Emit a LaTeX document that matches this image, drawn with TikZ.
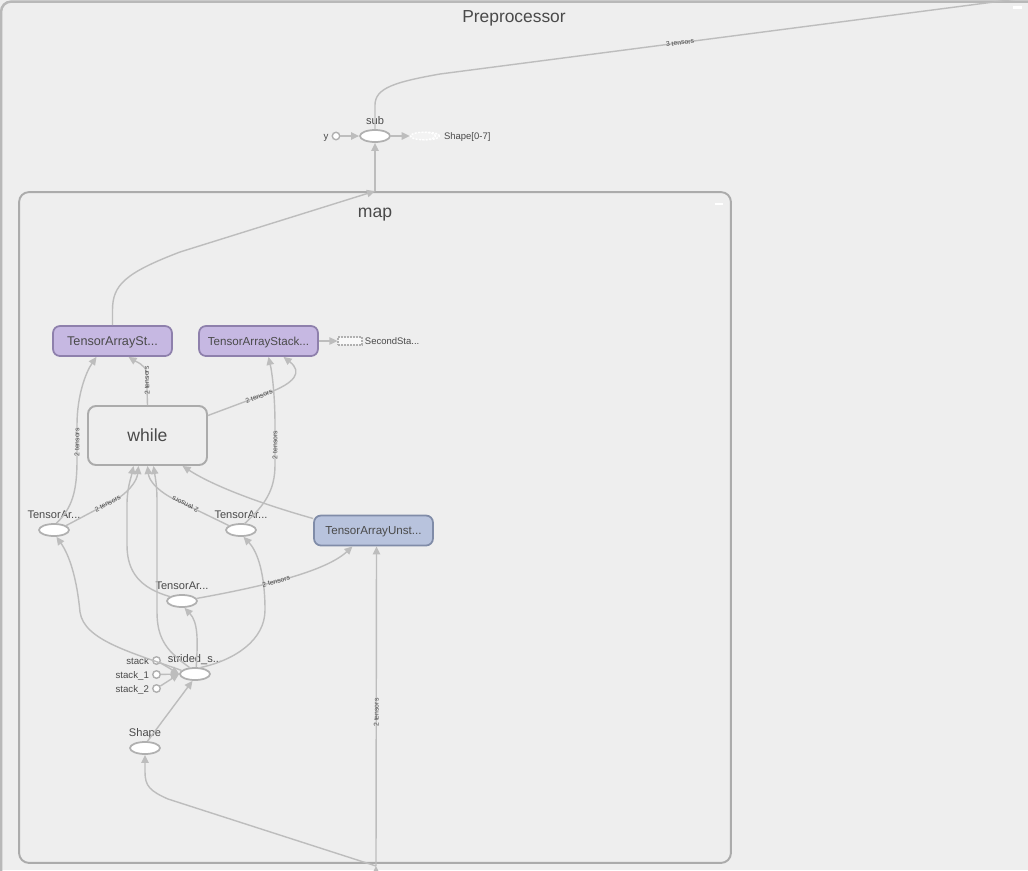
\documentclass[tikz,border=0pt]{standalone}
\usepackage{fontspec}
\setmainfont{Liberation Sans}
\usetikzlibrary{arrows.meta,calc,shapes.geometric}

\definecolor{bgGray}{HTML}{EEEEEE}
\definecolor{boxLine}{HTML}{ABABAB}
\definecolor{nodeLine}{HTML}{B0B0B0}
\definecolor{edgeGray}{HTML}{BDBDBD}
\definecolor{txtGray}{HTML}{4A4A4A}
\definecolor{purpleFill}{HTML}{C6B8E2}
\definecolor{purpleLine}{HTML}{8E80AC}
\definecolor{blueFill}{HTML}{B8C3DD}
\definecolor{blueLine}{HTML}{808CA8}

\newcommand{\fsz}[1]{\fontsize{#1}{#1}\selectfont}

\begin{document}
\begin{tikzpicture}[x=0.02cm, y=-0.02cm, text=txtGray, label distance=2.6pt,
  opNode/.style={ellipse, draw=nodeLine, fill=white, line width=1pt, minimum width=0.6cm, minimum height=0.24cm, inner sep=0pt},
  constNode/.style={circle, draw=nodeLine, fill=white, line width=0.8pt, minimum size=0.15cm, inner sep=0pt},
  seriesNode/.style={ellipse, draw=white, fill=bgGray!70!white, dash pattern=on 1.1pt off 0.8pt, line width=0.8pt, minimum width=0.5cm, minimum height=0.15cm, inner sep=0pt},
  stackNode/.style={rectangle, rounded corners=0.14cm, line width=1pt, minimum width=2.38cm, minimum height=0.6cm, inner sep=0pt, font=\fsz{6.6}, text height=4.7pt, text depth=0pt},
  lbl/.style={font=\fsz{6.3}, anchor=base, inner sep=0pt},
  lblLeft/.style={font=\fsz{5.5}, anchor=east, inner sep=0pt, xshift=1pt, text height=4pt, text depth=0pt},
  lblRight/.style={font=\fsz{5.4}, anchor=west, inner sep=0pt, xshift=-1.4pt, text height=3.9pt, text depth=0pt},
  tensorLbl/.style={font=\fsz{3.9}, sloped, allow upside down, inner sep=0.5pt},
  edgeLine/.style={draw=edgeGray, line width=0.8pt},
  edgeArrow/.style={edgeLine, -{Triangle[length=4.6pt,width=4.2pt]}}]

  % Fondo
  \useasboundingbox (0,0) rectangle (1028,870);
  \clip (0,0) rectangle (1028,870);
  \fill[bgGray] (0,0) rectangle (1028,870);

  % Preprocessor / map
  \node[draw=boxLine!85, line width=1.4pt, rounded corners=0.2cm, minimum width=22cm, minimum height=20cm] (preBox) at (551,501.5) {};
  \node[font=\fsz{9.9}, anchor=base] (preTitle) at (514,22.5) {Preprocessor};
  \draw[white, line width=1.2pt] (1013,7.5) -- (1022,7.5);

  \node[draw=boxLine, line width=1.1pt, rounded corners=0.2cm, minimum width=14.24cm, minimum height=13.42cm] (mapBox) at (375,527.5) {};
  \node[font=\fsz{10}, anchor=base] (mapTitle) at (375,217.5) {map};
  \draw[white, line width=1.2pt] (715,204) -- (723,204);

  % sub
  \node[opNode, label={[lbl]above:sub}] (sub) at (375,136) {};
  \node[constNode, label={[lblLeft]left:y}] (yIn) at (336,136) {};
  \node[seriesNode, label={[lblRight, xshift=0.8pt]right:Shape[0-7]}] (shp07b) at (427,136) {};
  \node[seriesNode] (shp07) at (423,136) {};
  \coordinate (outTR) at (1040,-4);

  % map contents
  \node[stackNode, fill=purpleFill, draw=purpleLine, font=\fsz{7.2}] (tas1) at (112.5,341) {TensorArraySt...};
  \node[stackNode, fill=purpleFill, draw=purpleLine] (tas2) at (258.5,341) {TensorArrayStack...};
  \node[rectangle, draw=nodeLine, fill=bgGray!40!white, dash pattern=on 1pt off 0.7pt, line width=0.6pt, minimum width=0.48cm, minimum height=0.16cm, inner sep=0pt,
        label={[lblRight]right:SecondSta...}] (secStage) at (350,341) {};
  \node[rectangle, rounded corners=0.16cm, draw=boxLine, fill=bgGray, line width=1.1pt, minimum width=2.38cm, minimum height=1.18cm, font=\fsz{10}] (while) at (147.5,435.5) {while};
  \node[stackNode, fill=blueFill, draw=blueLine] (tau) at (373.5,530.5) {TensorArrayUnst...};

  \node[opNode, label={[lbl]above:TensorAr...}] (taLeft) at (54,530) {};
  \node[opNode, label={[lbl]above:TensorAr...}] (taMid) at (241,530) {};
  \node[opNode, label={[lbl]above:TensorAr...}] (taLow) at (182,601) {};
  \node[opNode, label={[lbl]above:strided\_s...}] (strided) at (195,674) {};
  \node[constNode, label={[lblLeft]left:stack}] (stk0) at (156.5,660.5) {};
  \node[constNode, label={[lblLeft]left:stack\_1}] (stk1) at (156.5,674.5) {};
  \node[constNode, label={[lblLeft]left:stack\_2}] (stk2) at (156.5,688.5) {};
  \node[opNode, label={[lbl]above:Shape}] (shape) at (145,748) {};
  \coordinate (mapIn) at (376,866);
  \coordinate (inBot) at (376,890);

  % edges round sub
  \draw[edgeArrow] (yIn) -- (sub.west);
  \draw[edgeArrow] (sub.east) -- (shp07.west);
  \draw[edgeArrow] (mapBox.north) -- (sub.south);
  \draw[edgeLine] (sub.north) -- (375,105) .. controls (375,88) and (395,82) .. (440,74)
    -- node[tensorLbl, pos=0.4] {3 tensors} (outTR);

  % edges in map
  \draw[edgeArrow] (tas1.north) -- (112.5,310) .. controls (112.5,285) and (125,273) .. (180,252) -- (mapBox.north);
  \draw[edgeArrow] (tas2.east) -- (secStage.west);
  \draw[edgeArrow] (taLeft.70) .. controls (72,508) and (77,492) .. (77,460)
    -- node[tensorLbl] {2 tensors} (77,425) .. controls (77,395) and (86,372) .. ($(tas1.south)+(-16,0)$);
  \draw[edgeArrow] (while.north) -- node[tensorLbl, pos=0.74] {2 tensors} (146.5,372)
    .. controls (145.5,365) and (135,361) .. ($(tas1.south)+(16,0)$);
  \draw[edgeArrow] ($(while.east)+(0,-20)$) -- node[tensorLbl, pos=0.85] {2 tensors} (268,393)
    .. controls (295,383) and (303,372) .. ($(tas2.south)+(25,0)$);
  \draw[edgeArrow] (taMid.60) .. controls (265,505) and (275,490) .. (275,465)
    -- node[tensorLbl] {2 tensors} (275,425) .. controls (275,395) and (272,372) .. ($(tas2.south)+(10,0)$);
  \draw[edgeArrow] (taLeft.20) -- node[tensorLbl, pos=0.77] {2 tensors} (120,497)
    .. controls (131,489) and (137,480) .. ($(while.south)+(-9,0)$);
  \draw[edgeArrow] (taMid.160) -- node[tensorLbl, pos=0.74] {2 tensors} (170,497)
    .. controls (156,489) and (149,480) .. (while.south);
  \draw[edgeArrow] ($(tau.west)+(0,-12)$) .. controls (265,505) and (215,487) .. ($(while.south)+(35,0)$);
  \draw[edgeArrow] (taLow.160) .. controls (140,588) and (127,572) .. (127,545)
    -- (127,505) .. controls (127,488) and (131,478) .. ($(while.south)+(-14,0)$);
  \draw[edgeArrow] (strided.130) .. controls (168,652) and (157,640) .. (157,612)
    -- (157,500) .. controls (157,485) and (155,476) .. ($(while.south)+(6,0)$);
  \draw[edgeArrow] (strided.165) .. controls (130,652) and (84,640) .. (80,612)
    .. controls (77,580) and (70,556) .. (taLeft.-70);
  \draw[edgeArrow] (strided.50) .. controls (235,660) and (265,640) .. (265,610)
    .. controls (265,575) and (258,552) .. (taMid.-70);
  \draw[edgeArrow] (strided.80) .. controls (198,640) and (198,622) .. (taLow.-70);
  \draw[edgeArrow] (taLow.10) .. controls (260,587) and (325,572) .. node[tensorLbl, pos=0.43] {2 tensors} ($(tau.south)+(-21,0)$);
  \draw[edgeArrow] (shape.70) -- (strided.-110);
  \draw[edgeArrow] (stk0) -- (strided.west);
  \draw[edgeArrow] (stk1) -- (strided.west);
  \draw[edgeArrow] (stk2) -- (strided.west);

  % input at the bottom of map
  \draw[edgeArrow] (inBot) -- (mapIn);
  \draw[edgeArrow] (mapIn) -- node[tensorLbl, pos=0.48] {2 tensors} ($(tau.south)+(3,0)$);
  \draw[edgeArrow] (mapIn) -- (168,799) .. controls (150,791) and (145,786) .. (145,772) -- (shape.south);
\end{tikzpicture}
\end{document}
